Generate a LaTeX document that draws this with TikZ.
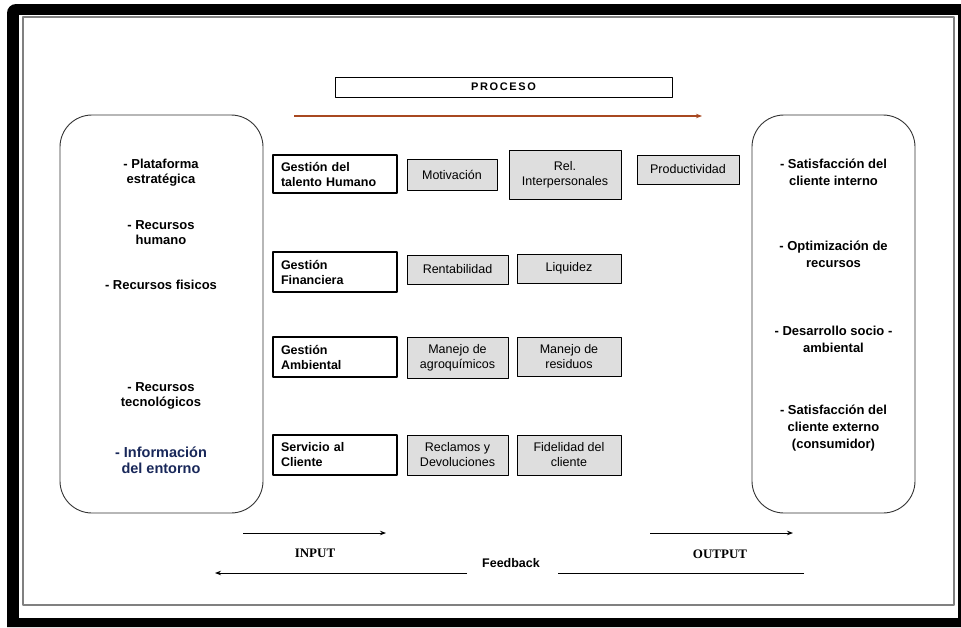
\documentclass[tikz,border=0pt]{standalone}
\usepackage{fontspec}
\setmainfont{Liberation Sans}
\newfontfamily\timesfont{Liberation Serif}
\usetikzlibrary{positioning,arrows.meta}
\definecolor{procarrow}{RGB}{168,72,32}
\definecolor{cajagris}{RGB}{222,222,222}
\definecolor{marco}{gray}{0.5}
\definecolor{azulinfo}{RGB}{25,40,90}
\begin{document}
\begin{tikzpicture}[x=1pt, y=-1pt, line join=round, >={Stealth[length=6pt,width=4.5pt]},
 gestion/.style={draw, line width=1.1pt, fill=white, text width=108pt, inner xsep=8pt, inner ysep=0pt, minimum height=40pt, align=left, font=\fontsize{12.5}{15}\selectfont\bfseries},
 caja/.style={draw, line width=0.8pt, fill=cajagris, inner sep=0pt, align=center, font=\fontsize{12.5}{15}\selectfont},
 lado/.style={draw=black!80, line width=0.9pt, rounded corners=32pt, fill=white, inner sep=0pt},
 texto/.style={align=center, font=\fontsize{13}{15}\selectfont\bfseries},
 etiqueta/.style={font=\fontsize{13}{15}\selectfont\timesfont\bfseries}]
 % marco
 \fill[white] (0,0) rectangle (961,627);
 \fill[black] (7,627) [rounded corners=9pt] -- (7,4) [sharp corners] -- (961,4) -- (961,627) -- cycle;
 \fill[white] (19,15) rectangle (958,618);
 \draw[marco, line width=1.5pt] (23,17) rectangle (954,605);
 % proceso
 \node[draw, line width=0.9pt, minimum width=337pt, minimum height=20pt, inner sep=0pt,
  font=\fontsize{11}{13}\selectfont\bfseries\addfontfeatures{LetterSpace=15}] (proceso) at (503.5,87) {PROCESO};
 \coordinate (pa) at (294,116);
 \coordinate (pb) at (702,116);
 \draw[->, procarrow, line width=1.1pt] (pa) -- (pb);
 % entradas y salidas
 \node[lado, minimum width=203pt, minimum height=398pt] (input) at (161.5,314) {};
 \node[lado, minimum width=163pt, minimum height=398pt] (output) at (833.5,314) {};
 \foreach \y/\t [count=\i] in {173/{- Plataforma\\estratégica}, 233/{- Recursos\\humano},
  285/{- Recursos fisicos}, 396/{- Recursos\\tecnológicos}}
 \node[texto] (ent\i) at (161,\y) {\t};
 \node[texto, text=azulinfo, font=\fontsize{14.5}{16.5}\selectfont\bfseries] (ent5) at (161,460) {- Información\\del entorno};
 \foreach \y/\t [count=\i] in {172/{- Satisfacción del\\cliente interno}, 254/{- Optimización de\\recursos},
  339/{- Desarrollo socio -\\ambiental}, 428/{- Satisfacción del\\cliente externo\\(consumidor)}}
 \node[texto, font=\fontsize{13}{17}\selectfont\bfseries] (sal\i) at (833.5,\y) {\t};
 % gestiones
 \node[gestion, minimum height=38pt] (talento) at (335,174) {Gestión del\\talento Humano};
 \node[gestion] (financiera) at (335,272) {Gestión\\Financiera};
 \node[gestion] (ambiental) at (335,357) {Gestión\\Ambiental};
 \node[gestion] (servicio) at (335,455) {Servicio al\\Cliente};
 % indicadores
 \node[caja, minimum width=90pt, minimum height=31pt] (motiv) at (452,174.5) {Motivación};
 \node[caja, minimum width=112pt, minimum height=49pt] (relint) at (565,174.5) {Rel.\\Interpersonales};
 \node[caja, minimum width=102pt, minimum height=29pt] (product) at (688,169.5) {Productividad};
 \node[caja, minimum width=101pt, minimum height=29pt] (rentab) at (457.5,269.5) {Rentabilidad};
 \node[caja, minimum width=104pt, minimum height=29pt] (liquidez) at (569,268.5) {Liquidez};
 \node[caja, minimum width=101pt, minimum height=41pt] (agroq) at (457.5,357.5) {Manejo de\\agroquímicos};
 \node[caja, minimum width=104pt, minimum height=39pt] (residuos) at (569,356.5) {Manejo de\\residuos};
 \node[caja, minimum width=101pt, minimum height=40pt] (reclamos) at (457.5,455) {Reclamos y\\Devoluciones};
 \node[caja, minimum width=104pt, minimum height=40pt] (fidelidad) at (569,455) {Fidelidad del\\cliente};
 % flechas de abajo
 \coordinate (ina) at (243,533);
 \coordinate (inb) at (386,533);
 \coordinate (outa) at (650,533);
 \coordinate (outb) at (793,533);
 \draw[->, line width=0.9pt] (ina) -- (inb);
 \draw[->, line width=0.9pt] (outa) -- (outb);
 \node[etiqueta] (inlbl) at (315,553) {INPUT};
 \node[etiqueta] (outlbl) at (720,554) {OUTPUT};
 \node[font=\fontsize{12.5}{15}\selectfont\bfseries] (feed) at (511,563) {Feedback};
 \coordinate (fba) at (804,573);
 \coordinate (fbb) at (558,573);
 \coordinate (fbc) at (467,573);
 \coordinate (fbd) at (215,573);
 \draw[line width=0.9pt] (fba) -- (fbb);
 \draw[->, line width=0.9pt] (fbc) -- (fbd);
\end{tikzpicture}
\end{document}
